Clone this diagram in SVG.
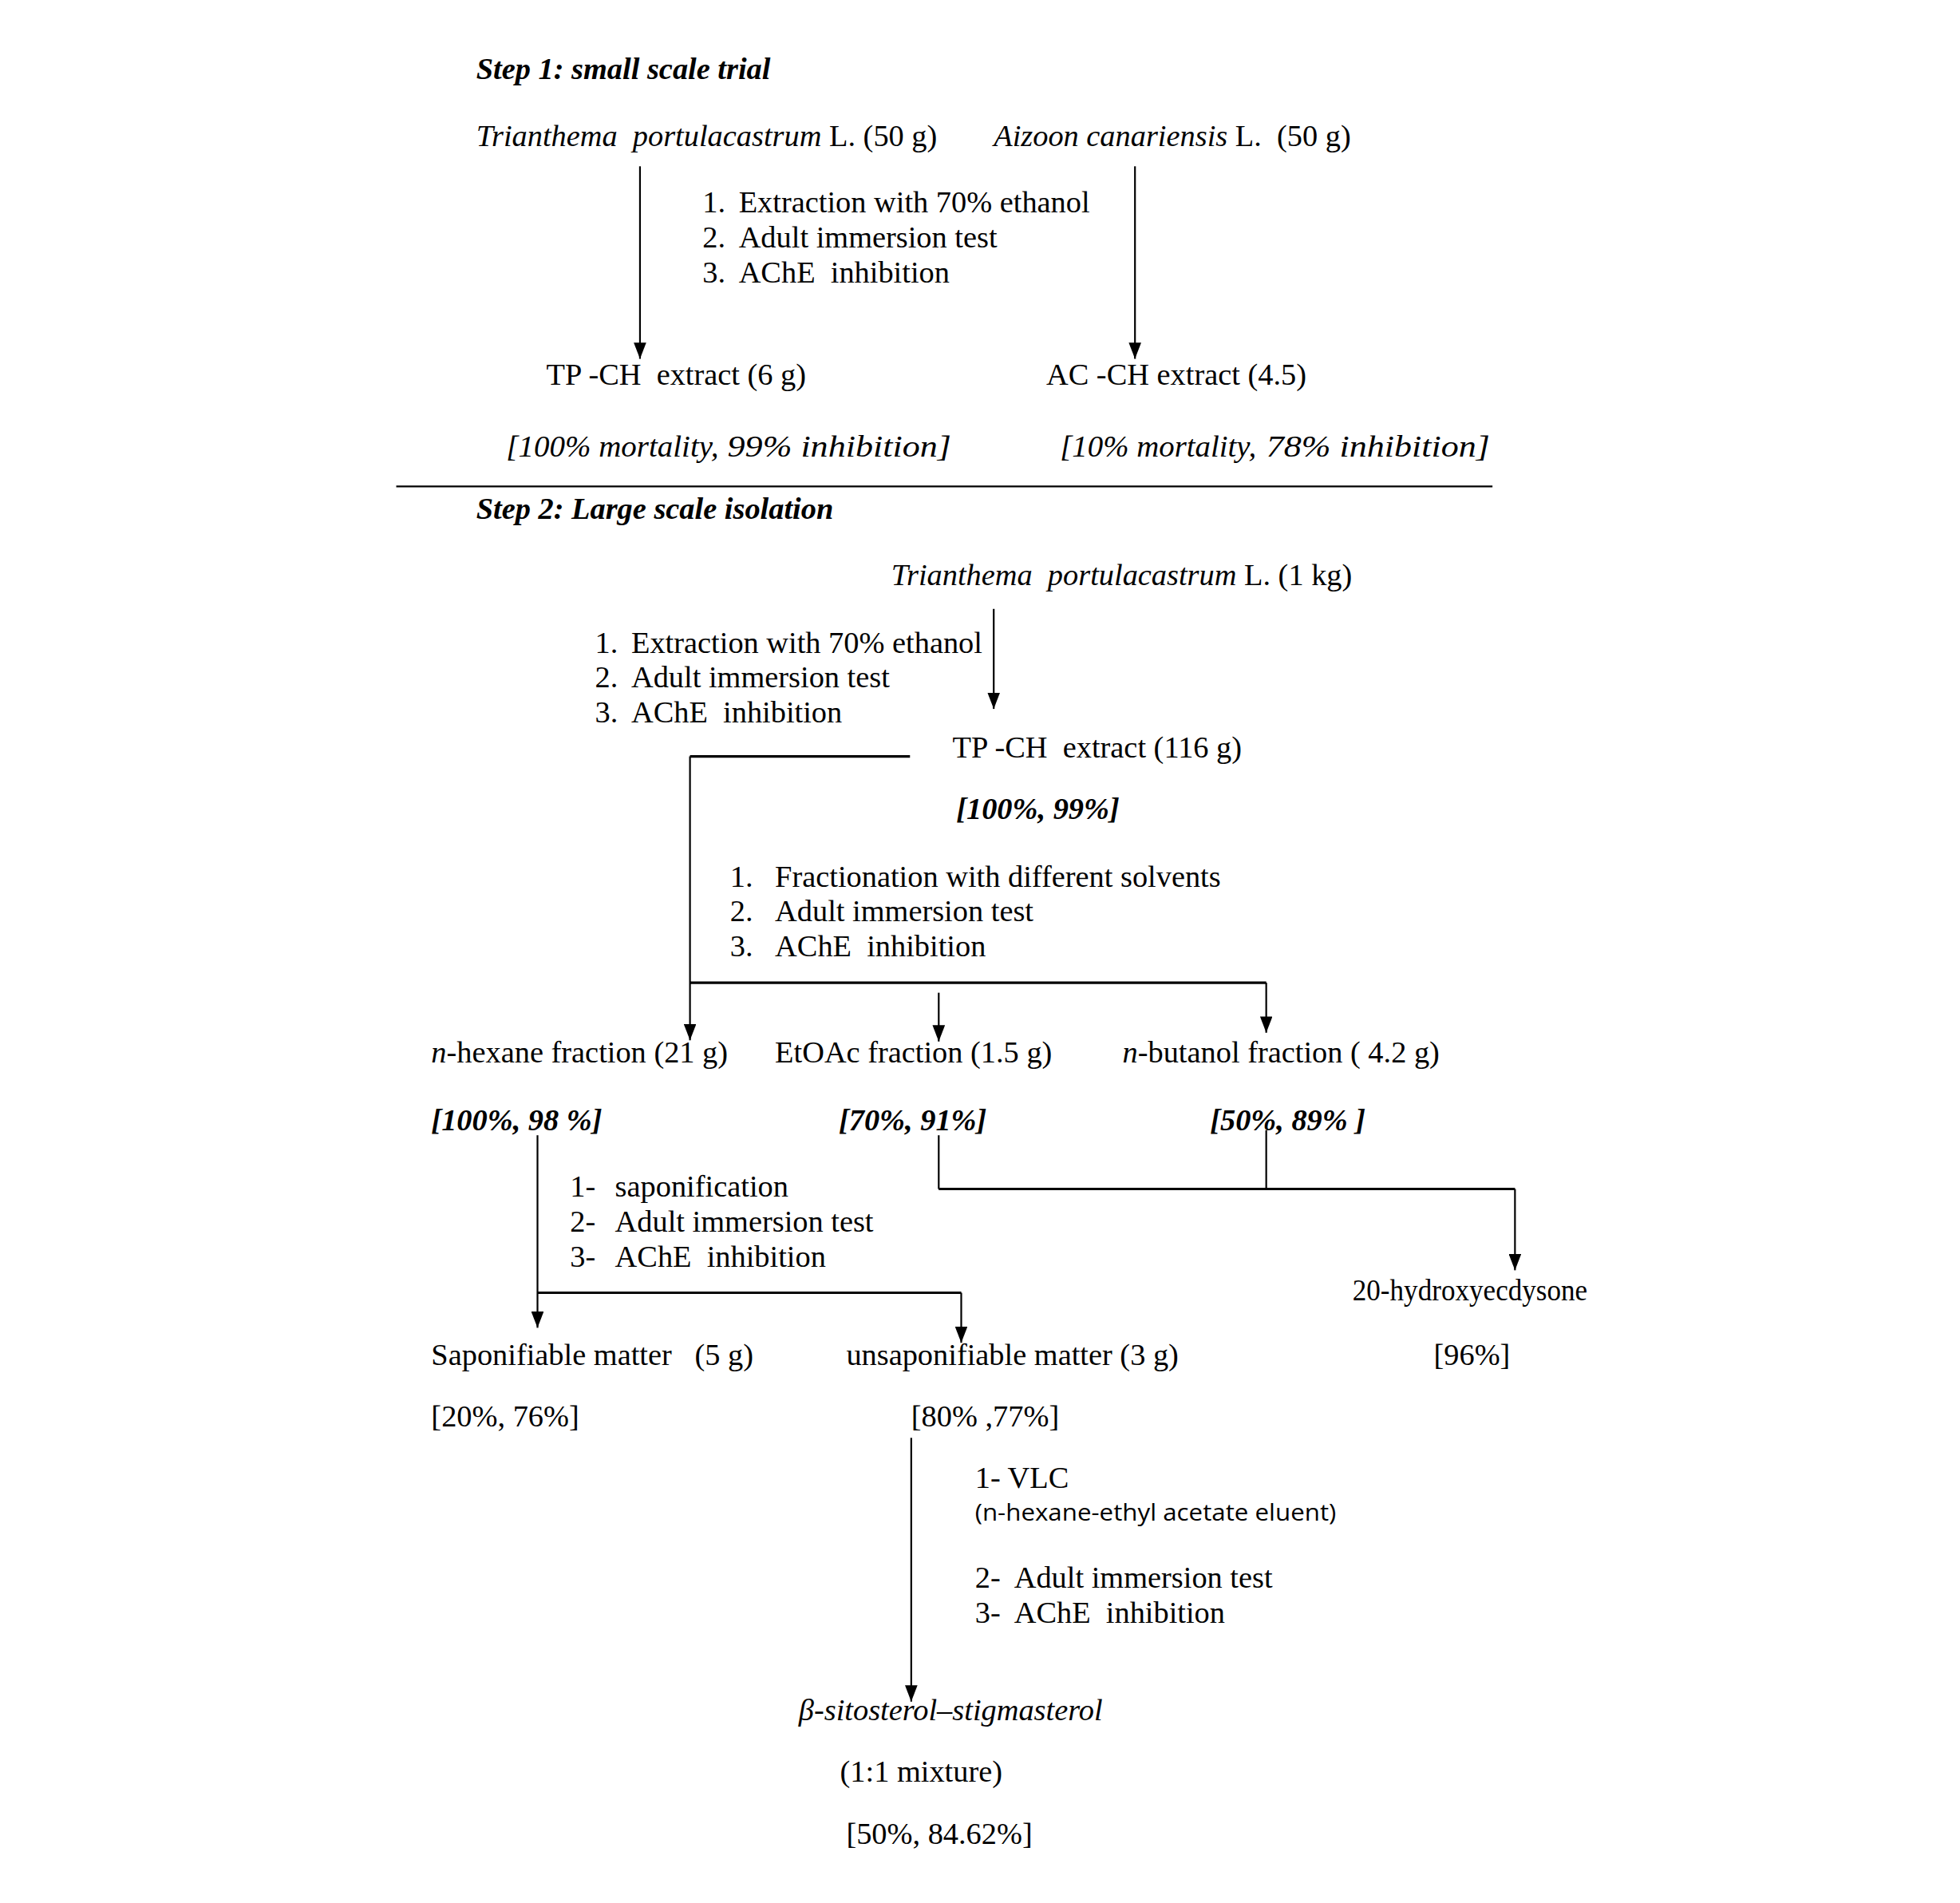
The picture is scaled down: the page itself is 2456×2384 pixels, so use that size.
<svg xmlns="http://www.w3.org/2000/svg" width="2456" height="2384" viewBox="0 0 2456 2384">
<style>
.t{font-family:"Liberation Serif","Times New Roman",serif;font-size:24.5px;fill:#000}
.i{font-style:italic}
.b{font-weight:bold}
.s{font-family:"Open Sans","Liberation Sans",sans-serif;font-size:19px;fill:#000}
.c{stroke:#000;stroke-width:1.4;fill:none}
.h{stroke-width:2}
</style>
<defs>
<marker id="ah" viewBox="0 0 13 10" refX="13" refY="5" markerWidth="13" markerHeight="10" markerUnits="userSpaceOnUse" orient="auto"><path d="M0,0 L13,5 L0,10 z" fill="#000"/></marker>
</defs>
<rect width="2456" height="2384" fill="#fff"/>
<g transform="scale(1.5663)">
<g id="connectors">
<path class="c" d="M512,133 V287" marker-end="url(#ah)"/>
<path class="c" d="M908,133 V287" marker-end="url(#ah)"/>
<path class="c" d="M317,389 H1194" stroke-width="1.6"/>
<path class="c" d="M795,487 V567" marker-end="url(#ah)"/>
<path class="c h" d="M728,605 H552"/>
<path class="c" d="M552,605 V832" marker-end="url(#ah)"/>
<path class="c h" d="M552,786 H1013"/>
<path class="c" d="M1013,786 V826" marker-end="url(#ah)"/>
<path class="c" d="M751,794 V833" marker-end="url(#ah)"/>
<path class="c" d="M751,908 V951"/>
<path class="c" d="M1013,904 V951"/>
<path class="c h" d="M751,951 H1212"/>
<path class="c" d="M1212,951 V1016" marker-end="url(#ah)"/>
<path class="c" d="M430,908 V1062" marker-end="url(#ah)"/>
<path class="c h" d="M430,1034 H769"/>
<path class="c" d="M769,1034 V1074" marker-end="url(#ah)"/>
<path class="c" d="M729,1150 V1361" marker-end="url(#ah)"/>
</g>
<g id="step1-title"><text class="t i b" x="381" y="63">Step 1: small scale trial</text></g>
<g id="tp-50g"><text class="t" x="381" y="117" xml:space="preserve"><tspan class="i">Trianthema  portulacastrum</tspan> L. (50 g)</text></g>
<g id="ac-50g"><text class="t" x="795" y="117" xml:space="preserve"><tspan class="i">Aizoon canariensis</tspan> L.  (50 g)</text></g>
<g id="steps1">
<text class="t" x="562" y="170">1.</text><text class="t" x="591" y="170">Extraction with 70% ethanol</text>
<text class="t" x="562" y="198">2.</text><text class="t" x="591" y="198">Adult immersion test</text>
<text class="t" x="562" y="226">3.</text><text class="t" x="591" y="226" xml:space="preserve">AChE  inhibition</text>
</g>
<g id="tp-ch-6g"><text class="t" x="437" y="308" xml:space="preserve">TP -CH  extract (6 g)</text></g>
<g id="ac-ch"><text class="t" x="837" y="308">AC -CH extract (4.5)</text></g>
<g id="tp-result">
<text class="t i" x="405" y="365" font-size="22" textLength="170" lengthAdjust="spacingAndGlyphs">[100% mortality,</text>
<text class="t i" x="582" y="365" font-size="27" textLength="179" lengthAdjust="spacingAndGlyphs">99% inhibition]</text>
</g>
<g id="ac-result">
<text class="t i" x="848" y="365" font-size="22" textLength="157" lengthAdjust="spacingAndGlyphs">[10% mortality,</text>
<text class="t i" x="1013" y="365" font-size="27" textLength="179" lengthAdjust="spacingAndGlyphs">78% inhibition]</text>
</g>
<g id="step2-title"><text class="t i b" x="381" y="415">Step 2: Large scale isolation</text></g>
<g id="tp-1kg"><text class="t" x="713" y="468" xml:space="preserve"><tspan class="i">Trianthema  portulacastrum</tspan> L. (1 kg)</text></g>
<g id="steps2">
<text class="t" x="476" y="522">1.</text><text class="t" x="505" y="522">Extraction with 70% ethanol</text>
<text class="t" x="476" y="550">2.</text><text class="t" x="505" y="550">Adult immersion test</text>
<text class="t" x="476" y="578">3.</text><text class="t" x="505" y="578" xml:space="preserve">AChE  inhibition</text>
</g>
<g id="tp-ch-116g">
<text class="t" x="762" y="606" xml:space="preserve">TP -CH  extract (116 g)</text>
<text class="t i b" x="765" y="655">[100%, 99%]</text>
</g>
<g id="steps3">
<text class="t" x="584" y="709">1.</text><text class="t" x="620" y="709">Fractionation with different solvents</text>
<text class="t" x="584" y="737">2.</text><text class="t" x="620" y="737">Adult immersion test</text>
<text class="t" x="584" y="765">3.</text><text class="t" x="620" y="765" xml:space="preserve">AChE  inhibition</text>
</g>
<g id="hexane">
<text class="t" x="345" y="850"><tspan class="i">n</tspan>-hexane fraction (21 g)</text>
<text class="t i b" x="345" y="904">[100%, 98 %]</text>
</g>
<g id="etoac">
<text class="t" x="620" y="850">EtOAc fraction (1.5 g)</text>
<text class="t i b" x="671" y="904">[70%, 91%]</text>
</g>
<g id="butanol">
<text class="t" x="898" y="850"><tspan class="i">n</tspan>-butanol fraction ( 4.2 g)</text>
<text class="t i b" x="968" y="904">[50%, 89% ]</text>
</g>
<g id="steps4">
<text class="t" x="456" y="957">1-</text><text class="t" x="492" y="957">saponification</text>
<text class="t" x="456" y="985">2-</text><text class="t" x="492" y="985">Adult immersion test</text>
<text class="t" x="456" y="1013">3-</text><text class="t" x="492" y="1013" xml:space="preserve">AChE  inhibition</text>
</g>
<g id="hydroxyecdysone">
<text class="t" x="1082" y="1040" font-size="21" textLength="188" lengthAdjust="spacingAndGlyphs">20-hydroxyecdysone</text>
<text class="t" x="1147" y="1092">[96%]</text>
</g>
<g id="saponifiable">
<text class="t" x="345" y="1092" xml:space="preserve">Saponifiable matter   (5 g)</text>
<text class="t" x="345" y="1141">[20%, 76%]</text>
</g>
<g id="unsaponifiable">
<text class="t" x="677" y="1092">unsaponifiable matter (3 g)</text>
<text class="t" x="729" y="1141">[80% ,77%]</text>
</g>
<g id="steps5">
<text class="t" x="780" y="1190">1- VLC</text>
<text class="s" x="780" y="1216" textLength="289" lengthAdjust="spacingAndGlyphs">(n-hexane-ethyl acetate eluent)</text>
<text class="t" x="780" y="1270" xml:space="preserve">2-  Adult immersion test</text>
<text class="t" x="780" y="1298" xml:space="preserve">3-  AChE  inhibition</text>
</g>
<g id="sterols">
<text class="t i" x="639" y="1376">β-sitosterol–stigmasterol</text>
<text class="t" x="672" y="1425">(1:1 mixture)</text>
<text class="t" x="677" y="1475">[50%, 84.62%]</text>
</g>
</g>
</svg>
